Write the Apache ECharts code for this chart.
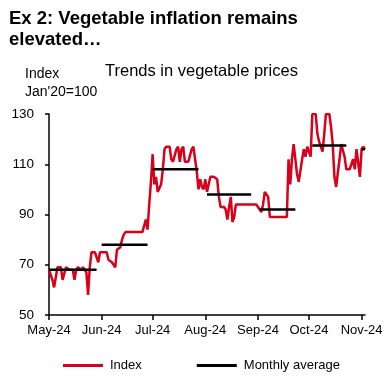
<!DOCTYPE html>
<html>
<head>
<meta charset="utf-8">
<script src="https://cdn.jsdelivr.net/npm/echarts@6/dist/echarts.min.js"></script>
<style>
html,body{margin:0;padding:0;background:#fff;}
#c{width:392px;height:382px;}
</style>
</head>
<body>
<div id="c"></div>
<script>
// ---- data ----
const startDate = '2024-05-01';
const dayCount = 187;
const monthStarts = ['2024-05-01','2024-06-01','2024-07-01','2024-08-01','2024-09-01','2024-10-01','2024-11-01'];
const monthLabels = ['May-24','Jun-24','Jul-24','Aug-24','Sep-24','Oct-24','Nov-24'];
const yTicks = [50, 70, 90, 110, 130];

const indexMay = [68,68,64,61,65,69,69,69,64,64,69,69,68,68,68,64,68,69,69,68,69,68,67,58,69,75,75,75,75,71,75];
const indexJun = [75,75,75,75,72,72,71,70,69,76,76,77,80,82,83,83,83,83,83,83,83,83,83,83,83,83,88,84,94,103];
const indexJul = [114,102,105,99,99,102,108,116,117,117,117,112,111,111,116,117,111,116,117,111,111,111,111,116,117,117,107,100,104,101,100];
const indexAug = [104,99,102,105,105,105,105,104,97,93,93,93,92,88,93,97,87,89,94,94,94,94,94,94,94,94,94,94,94,94,94];
const indexSep = [94,92,91,94,99,99,97,89,89,89,89,89,89,89,89,89,89,89,112,102,112,118,112,106,103,103,112,116,113,117];
const indexOct = [117,113,130,130,130,122,119,119,115,122,130,130,130,125,118,105,101,101,112,118,118,113,108,108,108,108,112,108,116,116,105];
const indexNov = [116,117,116];

const avgValues = [68, 78, 108, 98, 92, 117.5, 116];
const avgStart = ['2024-05-01','2024-06-01','2024-07-01','2024-08-02','2024-09-02','2024-10-03','2024-11-01'];
const avgEnd   = ['2024-05-29','2024-06-28','2024-07-28','2024-08-28','2024-09-23','2024-10-23','2024-11-03'];

// ---- build ----
function fmt(d){
  const m = String(d.getUTCMonth()+1).padStart(2,'0');
  const dd = String(d.getUTCDate()).padStart(2,'0');
  return d.getUTCFullYear()+'-'+m+'-'+dd;
}
const categories = [];
const s0 = new Date(startDate+'T00:00:00Z');
for (let i=0;i<dayCount;i++){
  categories.push(fmt(new Date(s0.getTime()+i*86400000)));
}
const indexValues = [].concat(indexMay,indexJun,indexJul,indexAug,indexSep,indexOct,indexNov);
const avgData = categories.map(c=>{
  for (let k=0;k<avgValues.length;k++){
    if (c>=avgStart[k] && c<=avgEnd[k]) return avgValues[k];
  }
  return null;
});
const isMonthStart = (i,v)=> monthStarts.indexOf(v) >= 0;

const FONT = "'Liberation Sans', Arial, sans-serif";
const chart = echarts.init(document.getElementById('c'), null, {renderer:'canvas'});
chart.setOption({
  animation:false,
  backgroundColor:'#fff',
  title:[
    {text:'Ex 2: Vegetable inflation remains\nelevated…', left:9, top:8, padding:0,
     textStyle:{fontFamily:FONT,fontSize:18.5,fontWeight:'bold',color:'#000',lineHeight:21}},
    {text:"Index\nJan'20=100", left:25, top:65, padding:0,
     textStyle:{fontFamily:FONT,fontSize:14,fontWeight:'normal',color:'#000',lineHeight:18}},
    {text:'Trends in vegetable prices', left:105, top:63, padding:0,
     textStyle:{fontFamily:FONT,fontSize:16.5,fontWeight:'normal',color:'#000'}}
  ],
  grid:{left:49,right:27,top:114,bottom:67,containLabel:false},
  legend:{
    bottom:5, left:58,
    itemWidth:40, itemHeight:3, itemGap:55,
    icon:'rect',
    textStyle:{fontFamily:FONT,fontSize:13,color:'#000',padding:[0,0,0,2]},
    data:['Index','Monthly average']
  },
  xAxis:{
    type:'category', data:categories, boundaryGap:false,
    axisLine:{lineStyle:{color:'#000',width:1.5}},
    axisTick:{show:true,length:5,interval:isMonthStart,lineStyle:{color:'#000',width:1.5}},
    axisLabel:{interval:isMonthStart,margin:9,fontFamily:FONT,fontSize:13,color:'#000',
      formatter:v=>monthLabels[monthStarts.indexOf(v)]},
    splitLine:{show:false}
  },
  yAxis:{
    type:'value', min:yTicks[0], max:yTicks[yTicks.length-1], interval:20,
    axisLine:{show:true,lineStyle:{color:'#000',width:1.5}},
    axisTick:{show:true,length:4,lineStyle:{color:'#000',width:1.5}},
    axisLabel:{margin:15,fontFamily:FONT,fontSize:13.5,color:'#000'},
    splitLine:{show:false}
  },
  series:[
    {name:'Index',type:'line',data:indexValues,showSymbol:false,symbol:'none',
     lineStyle:{color:'#D9001B',width:2.5},itemStyle:{color:'#D9001B'}},
    {name:'Monthly average',type:'line',data:avgData,showSymbol:false,symbol:'none',connectNulls:false,
     lineStyle:{color:'#000',width:2.5},itemStyle:{color:'#000'}}
  ]
});
</script>
</body>
</html>
